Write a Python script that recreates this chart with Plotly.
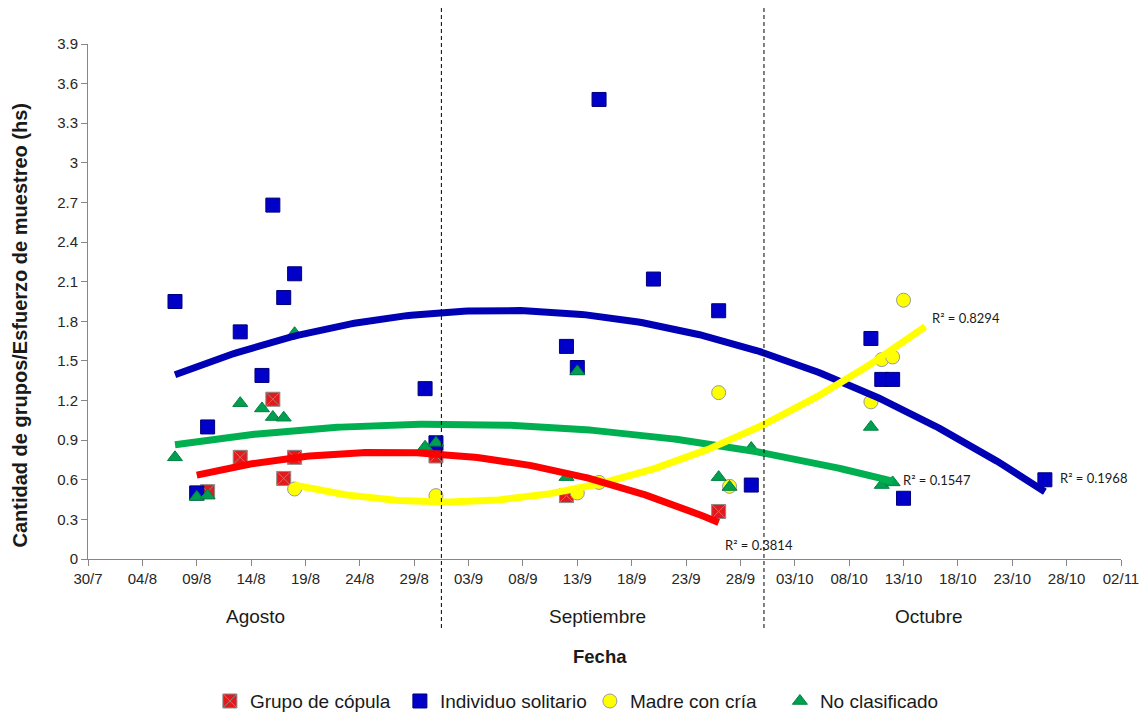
import numpy as np
import pandas as pd
import plotly.graph_objects as go

# Survey dates and group counts per sampling effort (hours)
copula_dates = ["2013-08-09", "2013-08-10", "2013-08-13", "2013-08-16", "2013-08-17",
                "2013-08-18", "2013-08-31", "2013-09-12", "2013-09-26"]
copula_vals = [0.50, 0.51, 0.77, 1.21, 0.61, 0.77, 0.78, 0.48, 0.36]

solitario_dates = ["2013-08-07", "2013-08-09", "2013-08-10", "2013-08-13", "2013-08-15",
                   "2013-08-16", "2013-08-17", "2013-08-18", "2013-08-30", "2013-08-31",
                   "2013-09-12", "2013-09-13", "2013-09-15", "2013-09-20", "2013-09-26",
                   "2013-09-29", "2013-10-10", "2013-10-11", "2013-10-12", "2013-10-13",
                   "2013-10-26"]
solitario_vals = [1.95, 0.50, 1.00, 1.72, 1.39, 2.68, 1.98, 2.16, 1.29, 0.88,
                  1.61, 1.45, 3.48, 2.12, 1.88, 0.56, 1.67, 1.36, 1.36, 0.46, 0.60]

madre_dates = ["2013-08-18", "2013-08-31", "2013-09-13", "2013-09-15", "2013-09-26",
               "2013-09-27", "2013-10-10", "2013-10-11", "2013-10-12", "2013-10-13"]
madre_vals = [0.53, 0.48, 0.50, 0.58, 1.26, 0.55, 1.19, 1.51, 1.53, 1.96]

noclas_dates = ["2013-08-07", "2013-08-09", "2013-08-10", "2013-08-13", "2013-08-15",
                "2013-08-16", "2013-08-17", "2013-08-18", "2013-08-30", "2013-08-31",
                "2013-09-12", "2013-09-13", "2013-09-26", "2013-09-27", "2013-09-29",
                "2013-10-10", "2013-10-11", "2013-10-12"]
noclas_vals = [0.77, 0.47, 0.48, 1.18, 1.14, 1.075, 1.07, 1.71, 0.85, 0.88,
               0.62, 1.42, 0.62, 0.545, 0.84, 1.00, 0.56, 0.58]

# R² of each polynomial trend line
r2_labels = {"copula": "R² = 0.3814", "solitario": "R² = 0.1968",
             "madre": "R² = 0.8294", "noclas": "R² = 0.1547"}

# Axis ticks
x_tick_dates = pd.date_range("2013-07-30", "2013-11-02", freq="5D")
x_tick_text = ["30/7", "04/8", "09/8", "14/8", "19/8", "24/8", "29/8", "03/9", "08/9",
               "13/9", "18/9", "23/9", "28/9", "03/10", "08/10", "13/10", "18/10",
               "23/10", "28/10", "02/11"]
y_tick_vals = [0, 0.3, 0.6, 0.9, 1.2, 1.5, 1.8, 2.1, 2.4, 2.7, 3.0, 3.3, 3.6, 3.9]
y_tick_text = ["0", "0.3", "0.6", "0.9", "1.2", "1.5", "1.8", "2.1", "2.4", "2.7",
               "3", "3.3", "3.6", "3.9"]

months = ["Agosto", "Septiembre", "Octubre"]
month_pos = [0.162, 0.493, 0.814]

ORIGIN = pd.Timestamp("2013-07-30")
FONT = "Liberation Sans, Arial, sans-serif"

series = [
    dict(key="copula", name="Grupo de cópula", dates=copula_dates, vals=copula_vals,
         symbol="square-x", size=14, color="#E3191B", edge="#8a8a8a", line="#FF0000",
         forecast=0),
    dict(key="solitario", name="Individuo solitario", dates=solitario_dates, vals=solitario_vals,
         symbol="square", size=14, color="#0000C8", edge="#00007a", line="#0000B4",
         forecast=0),
    dict(key="madre", name="Madre con cría", dates=madre_dates, vals=madre_vals,
         symbol="circle", size=14, color="#FFFF00", edge="#9a9a9a", line="#FFFF00",
         forecast=2),
    dict(key="noclas", name="No clasificado", dates=noclas_dates, vals=noclas_vals,
         symbol="triangle-up", size=13, color="#00A050", edge="#008040", line="#00B050",
         forecast=0),
]

fig = go.Figure()

# Scatter points (later series drawn on top)
for s in series:
    fig.add_trace(go.Scatter(
        x=pd.to_datetime(s["dates"]), y=s["vals"], mode="markers", name=s["name"],
        marker=dict(symbol=s["symbol"], size=s["size"], color=s["color"],
                    line=dict(color=s["edge"], width=1)),
    ))

# Second-order polynomial trend lines fitted to each series
for key in ["solitario", "noclas", "madre", "copula"]:
    s = next(v for v in series if v["key"] == key)
    days = (pd.to_datetime(s["dates"]) - ORIGIN).days.to_numpy(dtype=float)
    coef = np.polyfit(days, np.asarray(s["vals"]), 2)
    grid = np.linspace(days.min(), days.max() + s["forecast"], 200)
    fig.add_trace(go.Scatter(
        x=ORIGIN + pd.to_timedelta(grid, unit="D"), y=np.polyval(coef, grid),
        mode="lines", line=dict(color=s["line"], width=7), showlegend=False,
        hoverinfo="skip",
    ))

# R² labels next to the trend line ends
r2_pos = {"madre": (77.4, 1.825), "noclas": (74.8, 0.60),
          "solitario": (89.2, 0.61), "copula": (58.4, 0.106)}
for key, (dx, yv) in r2_pos.items():
    fig.add_annotation(x=ORIGIN + pd.Timedelta(days=dx), y=yv, text=r2_labels[key],
                       showarrow=False, xanchor="left", yanchor="middle",
                       font=dict(family="Lato, sans-serif", size=13, color="#1a1a1a"))

# Month separators
for ts in ["2013-08-31 12:00", "2013-09-30 04:00"]:
    fig.add_shape(type="line", xref="x", yref="paper", x0=ts, x1=ts, y0=-0.134, y1=1.07,
                  line=dict(color="black", width=1, dash="4px,3px"))

for m, xp in zip(months, month_pos):
    fig.add_annotation(x=xp, y=-0.111, xref="paper", yref="paper", text=m, showarrow=False,
                       xanchor="center", yanchor="middle",
                       font=dict(family=FONT, size=19, color="#1a1a1a"))

fig.add_annotation(x=0.496, y=-0.19, xref="paper", yref="paper", text="<b>Fecha</b>",
                   showarrow=False, xanchor="center", yanchor="middle",
                   font=dict(family=FONT, size=18.5, color="#1a1a1a"))
fig.add_annotation(x=-0.066, y=0.455, xref="paper", yref="paper",
                   text="<b>Cantidad de grupos/Esfuerzo de muestreo (hs)</b>",
                   textangle=-90, showarrow=False, xanchor="center", yanchor="middle",
                   font=dict(family=FONT, size=20, color="#1a1a1a"))

axis_common = dict(showgrid=False, zeroline=False, showline=True, linecolor="#868686",
                   linewidth=1, ticks="outside", ticklen=6, tickcolor="#868686",
                   tickfont=dict(family=FONT, size=15, color="#262626"))

fig.update_layout(
    width=1145, height=712,
    margin=dict(l=88, r=24, t=44, b=153, autoexpand=False),
    paper_bgcolor="white", plot_bgcolor="white",
    xaxis=dict(type="date", range=[x_tick_dates[0], x_tick_dates[-1]],
               tickvals=x_tick_dates, ticktext=x_tick_text, **axis_common),
    yaxis=dict(range=[0, 3.9], tickvals=y_tick_vals, ticktext=y_tick_text, **axis_common),
    legend=dict(orientation="h", x=0.118, xanchor="left", y=-0.276, yanchor="middle",
                font=dict(family=FONT, size=19, color="#1a1a1a"), itemwidth=30,
                entrywidth=145, entrywidthmode="pixels",
                bgcolor="rgba(0,0,0,0)"),
    showlegend=True,
)

fig.write_html("out.html")
